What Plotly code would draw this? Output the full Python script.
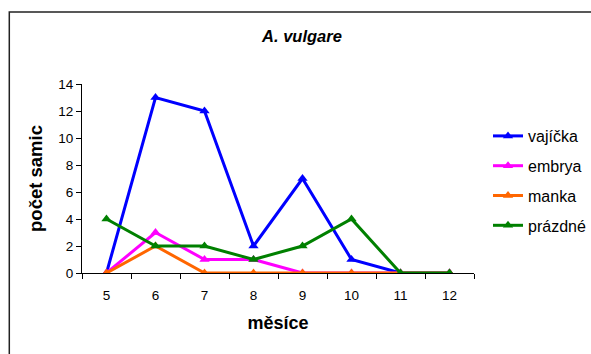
import plotly.graph_objects as go

months = [5, 6, 7, 8, 9, 10, 11, 12]
vajicka = [0, 13, 12, 2, 7, 1, 0, 0]
embrya = [0, 3, 1, 1, 0, 0, 0, 0]
manka = [0, 2, 0, 0, 0, 0, 0, 0]
prazdne = [4, 2, 2, 1, 2, 4, 0, 0]

series = [
    ("vajíčka", vajicka, "#0000FF"),
    ("embrya", embrya, "#FF00FF"),
    ("manka", manka, "#FF6600"),
    ("prázdné", prazdne, "#008000"),
]

FONT = "Arial, Liberation Sans, sans-serif"

fig = go.Figure()
for i, (name, vals, col) in enumerate(series):
    fig.add_trace(go.Scatter(
        x=months, y=vals, name=name, mode="lines+markers",
        line=dict(color=col, width=3),
        marker=dict(symbol="triangle-up", size=9, color=col),
        legendgroup=f"g{i}",
    ))

L, R, T, B = 81.7, 117.3, 84, 81.3
W, H = 591, 354
pw, ph = W - L - R, H - T - B

fig.update_layout(
    width=W, height=H,
    margin=dict(l=L, r=R, t=T, b=B, autoexpand=False),
    paper_bgcolor="white", plot_bgcolor="white",
    font=dict(family=FONT, size=13.5, color="black"),
    title=dict(text="<b><i>A. vulgare</i></b>", x=302 / W, xanchor="center",
               y=1 - 36 / H, yanchor="middle", font=dict(size=16.5)),
    showlegend=True,
    legend=dict(xref="container", yref="container", x=488 / W, xanchor="left",
                y=1 - 119 / H, yanchor="top",
                font=dict(size=16), tracegroupgap=6, bgcolor="rgba(0,0,0,0)"),
    xaxis=dict(range=[4.5, 12.5], tickvals=months, ticktext=[str(m) for m in months],
               ticks="", showgrid=False, zeroline=False, showline=True,
               linecolor="black", linewidth=1, ticklabelstandoff=10,
               minor=dict(ticks="outside", tick0=4.5, dtick=1, ticklen=5,
                          tickcolor="black", showgrid=False),
               title=dict(text="<b>měsíce</b>", font=dict(size=18), standoff=14),
               fixedrange=True),
    yaxis=dict(range=[0, 14], tickvals=[0, 2, 4, 6, 8, 10, 12, 14], ticks="outside",
               ticklen=5, tickcolor="black", showgrid=False, zeroline=False,
               showline=True, linecolor="black", linewidth=1,
               title=dict(text="<b>počet samic</b>", font=dict(size=18.5), standoff=10),
               fixedrange=True),
    shapes=[dict(type="rect", xref="paper", yref="paper",
                 x0=(9 - L) / pw, x1=(W + 20 - L) / pw,
                 y0=-(B + 20) / ph, y1=(H - B - 12) / ph,
                 line=dict(color="#222222", width=1.5), layer="below")],
)

fig.write_html("out.html")
